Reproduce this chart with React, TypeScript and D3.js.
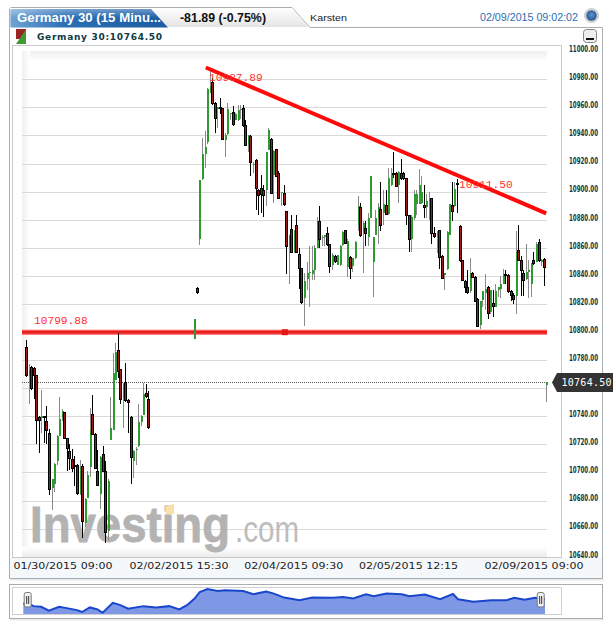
import React from "react";
import * as d3 from "d3";

const W = 613;
const H = 627;

// Candles as [open, high, low, close]
const sessionA = [
  [10789,10794,10768,10769],[10769,10777,10749,10773],[10775,10776,10759,10760],[10774,10775,10752,10769],[10769,10769,10720,10737],
  [10739,10740,10714,10737],[10739,10759,10728,10740],[10740,10740,10721,10739],[10736,10747,10720,10730],[10728,10731,10684,10688],
  [10689,10695,10673,10695],[10692,10707,10686,10706],[10708,10727,10705,10726],[10726,10754,10726,10738],[10739,10745,10737,10744],
  [10743,10743,10724,10724],[10724,10724,10701,10717],[10715,10720,10702,10710],[10709,10717,10700,10703],[10705,10712,10690,10704],
  [10705,10706,10684,10685],[10685,10709,10684,10704],[10704,10706,10653,10665],[10664,10682,10661,10681],[10682,10701,10682,10698],
  [10704,10746,10697,10730],[10741,10755,10727,10727],[10727,10728,10703,10703],[10701,10716,10690,10691],[10685,10712,10674,10711],
  [10713,10719,10701,10701],[10701,10708,10650,10657],[10658,10695,10652,10694],[10723,10754,10723,10732],[10730,10785,10730,10771],
  [10766,10792,10766,10786],[10787,10799,10767,10772],[10773,10773,10749,10752],[10753,10764,10732,10763],[10764,10778,10750,10751],
  [10751,10752,10728,10750],[10739,10740,10692,10711],[10708,10716,10696,10715],[10716,10718,10705,10717],[10719,10749,10718,10736],
  [10736,10741,10733,10740],[10741,10764,10741,10756],[10756,10763,10753,10754],[10752,10758,10731,10732],
];
const sessionB = [
  [10795,10809,10795,10809],[10831,10832,10827,10828],[10866,10908,10862,10908],[10909,10938,10908,10927],[10927,10943,10917,10932],
  [10935,10974,10934,10973],[10970,10988,10970,10975],[10978,10981,10962,10963],[10963,10964,10942,10952],[10959,10960,10945,10960],
  [10960,10967,10955,10959],[10959,10959,10937,10937],[10937,10942,10925,10940],[10941,10963,10940,10959],[10955,10956,10951,10956],
  [10956,10961,10947,10948],[10951,10956,10951,10955],[10951,10962,10950,10958],[10959,10962,10952,10959],[10959,10962,10946,10947],
  [10947,10951,10933,10933],[10933,10940,10928,10940],[10939,10940,10911,10921],[10919,10921,10913,10920],[10922,10923,10887,10902],
  [10901,10902,10883,10897],[10902,10912,10885,10898],[10901,10905,10882,10897],[10901,10928,10890,10928],[10930,10945,10930,10944],
  [10937,10938,10898,10899],[10912,10930,10892,10929],[10930,10930,10911,10911],[10913,10915,10895,10895],[10899,10900,10890,10900],
  [10899,10905,10890,10891],[10886,10886,10841,10861],[10861,10869,10834,10869],[10873,10883,10857,10857],[10857,10873,10856,10872],
  [10876,10883,10856,10857],[10855,10860,10831,10845],[10845,10845,10820,10821],[10824,10842,10804,10836],[10838,10850,10830,10842],
  [10842,10861,10818,10843],[10841,10861,10837,10844],[10844,10862,10837,10860],[10860,10882,10860,10879],[10879,10890,10860,10866],
  [10868,10869,10861,10868],[10868,10869,10861,10869],[10870,10875,10861,10862],[10862,10863,10842,10847],[10848,10856,10844,10855],
  [10854,10855,10849,10850],[10848,10855,10848,10855],[10848,10862,10847,10861],[10862,10872,10861,10871],[10872,10873,10863,10863],
  [10846,10866,10839,10865],[10853,10854,10838,10845],[10847,10853,10843,10853],[10853,10865,10852,10864],[10876,10897,10872,10890],
  [10889,10892,10868,10869],[10871,10879,10842,10878],[10874,10879,10861,10870],[10868,10885,10861,10881],[10881,10911,10881,10911],
  [10850,10868,10825,10868],[10869,10887,10869,10881],[10881,10892,10863,10889],[10887,10907,10872,10876],[10885,10901,10876,10891],
  [10890,10901,10883,10884],[10884,10917,10883,10910],
];
const sessionC = [
  [10905,10917,10904,10912],[10913,10928,10910,10912],[10913,10914,10904,10904],[10905,10915,10892,10914],[10913,10923,10908,10909],
  [10913,10914,10908,10909],[10909,10909,10876,10883],[10883,10883,10857,10866],[10866,10883,10857,10882],[10881,10901,10880,10898],
  [10891,10901,10883,10898],[10891,10916,10891,10905],[10892,10911,10891,10900],[10890,10905,10881,10889],[10889,10898,10881,10893],
  [10893,10900,10880,10895],[10895,10895,10863,10870],[10870,10875,10867,10868],[10868,10872,10856,10871],[10872,10872,10845,10853],
  [10854,10855,10838,10838],[10841,10842,10830,10842],[10845,10872,10844,10871],[10869,10891,10869,10891],[10890,10907,10879,10886],
  [10890,10907,10889,10902],[10906,10909,10885,10905],[10875,10876,10850,10851],[10851,10851,10836,10837],[10836,10837,10828,10832],
  [10832,10844,10827,10828],[10829,10853,10828,10842],[10842,10843,10839,10839],[10839,10840,10822,10822],[10823,10824,10804,10804],
  [10805,10822,10802,10822],[10823,10829,10818,10829],[10828,10841,10816,10831],[10832,10833,10809,10813],[10814,10830,10813,10830],
  [10820,10830,10811,10818],[10818,10834,10818,10829],[10830,10832,10825,10832],[10831,10840,10824,10834],[10834,10845,10834,10841],
  [10841,10844,10834,10840],[10840,10841,10828,10829],[10829,10830,10822,10826],[10826,10828,10820,10823],[10826,10872,10813,10857],
  [10858,10876,10851,10851],[10851,10854,10826,10844],[10842,10844,10826,10837],[10838,10863,10837,10843],[10844,10851,10824,10844],
  [10834,10849,10825,10849],[10851,10857,10848,10849],[10850,10864,10850,10863],[10864,10866,10850,10851],[10851,10852,10847,10851],
  [10852,10853,10833,10846],[10762,10764,10750,10764.5],
];
const barIndex = [...d3.range(0, 49), ...d3.range(66, 205)];
const candles = [...sessionA, ...sessionB, ...sessionC];

const priceTicks = [11000,10980,10960,10940,10920,10900,10880,10860,10840,10820,10800,10780,10760,10740,10720,10700,10680,10660,10640];
const hiddenTickLabel = 10760; // covered by the last-price flag in the reference
const timeBars = [14.5, 60, 105, 150, 199.2];
const timeLabels = ["01/30/2015 09:00","02/02/2015 15:30","02/04/2015 09:30","02/05/2015 12:15","02/09/2015 09:00"];

const navBars = [0,2,4,7,10,14,17,21,23,26,29,31,35,38,41,47,52,57,61,64,67,69,72,76,79,86,90,95,98,102,108,113,121,125,129,134,137,142,148,151,157,163,168,170,176,183,189,192,196,200,204];
const navValues = [10780,10780,10743,10734,10678,10734,10715,10687,10660,10725,10697,10650,10790,10757,10706,10743,10725,10743,10697,10757,10850,10943,10985,10957,10966,10957,10911,10948,10920,10864,10827,10864,10860,10873,10850,10911,10883,10920,10911,10883,10906,10841,10915,10841,10804,10827,10827,10860,10832,10860,10845];

const lastPrice = 10764.5;
const supportLevel = 10799.88;
const peakLabel = "10987.89";
const troughLabel = "10911.50";
const trendBars = [70.5, 204];
const trendValues = [10988.4, 10884.5];
const supportMarkerBar = 101.5;

const x = d3.scaleLinear().domain([0, 204]).range([26, 546.2]);
const y = d3.scaleLinear().domain([10980, 10640]).range([79.3, 556.7]);
const navX = d3.scaleLinear().domain([0, 204]).range([23.3, 545]);
const navY = d3.scaleLinear().domain([10632, 10985]).range([614, 589]);

const navLine = d3.line<number>().x((_, i) => navX(navBars[i])).y(d => navY(d)).curve(d3.curveLinear);
const navArea = d3.area<number>().x((_, i) => navX(navBars[i])).y0(navY(10632)).y1(d => navY(d));

const SANS = "'DejaVu Sans', Verdana, sans-serif";
const LMONO = "'Liberation Mono', monospace";
const MONO = "'DejaVu Sans Mono', monospace";
const ARIAL = "'Liberation Sans', Arial, sans-serif";

export default function App() {
  return (
    <svg width={W} height={H} viewBox={`0 0 ${W} ${H}`} style={{ position: "absolute", left: 0, top: 0, display: "block", background: "#fff" }}>
      <defs>
        <linearGradient id="tab" x1="0" y1="0" x2="1" y2="0">
          <stop offset="0" stopColor="#6fa3d3" />
          <stop offset="0.35" stopColor="#2a6fb5" />
          <stop offset="1" stopColor="#1c5da3" />
        </linearGradient>
        <linearGradient id="tabV" x1="0" y1="0" x2="0" y2="1">
          <stop offset="0" stopColor="#fff" stopOpacity="0.35" />
          <stop offset="1" stopColor="#fff" stopOpacity="0" />
        </linearGradient>
        <linearGradient id="strip" x1="0" y1="0" x2="0" y2="1">
          <stop offset="0" stopColor="#ffffff" />
          <stop offset="1" stopColor="#e4e4e4" />
        </linearGradient>
        <linearGradient id="topFade" x1="0" y1="0" x2="0" y2="1">
          <stop offset="0" stopColor="#efefef" />
          <stop offset="1" stopColor="#ffffff" />
        </linearGradient>
        <linearGradient id="botFade" x1="0" y1="0" x2="0" y2="1">
          <stop offset="0" stopColor="#ffffff" />
          <stop offset="1" stopColor="#ececec" />
        </linearGradient>
        <linearGradient id="leftFade" x1="0" y1="0" x2="1" y2="0">
          <stop offset="0" stopColor="#f0f0f0" />
          <stop offset="1" stopColor="#ffffff" />
        </linearGradient>
        <radialGradient id="globe" cx="0.5" cy="0.45" r="0.6">
          <stop offset="0" stopColor="#5f95cf" />
          <stop offset="1" stopColor="#1f4f8f" />
        </radialGradient>
      </defs>

      {/* header strip and tabs */}
      <rect x={10} y={579} width={594} height={1.5} fill="#e8e8e8" />
      <path d="M9.5,27.5 V10 Q9.5,7.5 12,7.5 H292 L310,27.5 H602.5 V578.5 H9.5 Z" fill="#fff" stroke="#a9adb0" strokeWidth={1} />
      <path d="M10,27 V8 H292 L309,27 Z" fill="url(#strip)" />
      <path d="M10.5,27.5 V9 H151 L168,27.5 Z" fill="url(#tab)" />
      <path d="M10.5,18 V9 H151 L159,18 Z" fill="url(#tabV)" />
      <text x={17} y={22} fill="#fff" fontFamily={ARIAL} fontWeight={700} fontSize={12.5} textLength={144} lengthAdjust="spacingAndGlyphs">Germany 30 (15 Minu...</text>
      <text x={180} y={22} fill="#111" fontFamily={ARIAL} fontWeight={700} fontSize={12} textLength={86} lengthAdjust="spacingAndGlyphs">-81.89 (-0.75%)</text>
      <text x={310} y={21} fill="#222" fontFamily={ARIAL} fontSize={9.5} textLength={37} lengthAdjust="spacingAndGlyphs">Karsten</text>
      <text x={480} y={21} fill="#2a6fb5" fontFamily={ARIAL} fontSize={10.5} textLength={98} lengthAdjust="spacingAndGlyphs">02/09/2015 09:02:02</text>
      <circle cx={591.5} cy={15.5} r={7} fill="#d5d5d5" stroke="#aaa" strokeWidth={0.5} />
      <circle cx={591.5} cy={15.5} r={5.2} fill="url(#globe)" />

      {/* legend row */}
      <path d="M16,29 H26 V39 L16,39 Z" fill="#9a2424" />
      <path d="M26,29.5 V44 H16 Z" fill="#3f9a34" />
      <text x={37} y={40} fill="#0c3a45" fontFamily={SANS} fontWeight={700} fontSize={9} textLength={125} lengthAdjust="spacing">Germany 30:10764.50</text>
      <rect x={583.5} y={29.5} width={13} height={13} rx={3} fill="#eee" stroke="#888" />
      <rect x={586} y={38} width={8} height={2} fill="#111" />

      {/* plot frame */}
      <rect x={12.5} y={45.5} width={549} height={512} fill="#fff" stroke="#c9c9c9" />
      <rect x={22} y={51} width={525} height={10} fill="url(#topFade)" />
      <rect x={22} y={51} width={8} height={506} fill="url(#leftFade)" />
      <rect x={22} y={547} width={525} height={10} fill="url(#botFade)" />

      {/* footer strip */}
      <rect x={10} y={558} width={592} height={20} fill="#f5f8fb" />

      {/* grid */}
      {priceTicks.slice(1, -1).map(t => (
        <line key={t} x1={22} x2={547} y1={Math.round(y(t)) + 0.5} y2={Math.round(y(t)) + 0.5} stroke="#d9d9d9" />
      ))}

      {/* watermark */}
      <text x={30} y={542} fill="#b3b3b3" stroke="#b3b3b3" strokeWidth={0.8} fontFamily={ARIAL} fontWeight={700} fontSize={50} textLength={200} lengthAdjust="spacingAndGlyphs">Investing</text>
      <text x={235} y={542} fill="#bdbdbd" fontFamily={ARIAL} fontSize={37} textLength={64} lengthAdjust="spacingAndGlyphs">.com</text>
      <path d="M165,507 L174,503.5 V514 H166 Z" fill="#f9dfa8" />

      {/* support line under candles */}
      <line x1={22} x2={547} y1={y(supportLevel)} y2={y(supportLevel)} stroke="#ff5555" strokeWidth={5} />
      <line x1={22} x2={547} y1={y(supportLevel)} y2={y(supportLevel)} stroke="#e82020" strokeWidth={2.4} />

      {/* last price dotted */}
      <line x1={22} x2={547} y1={382.5} y2={382.5} stroke="#555" strokeDasharray="1 1" />

      {/* candles */}
      <g shapeRendering="crispEdges">
        {candles.map(([o, h, l, c], i) => {
          const cx = Math.round(x(barIndex[i])) + 0.5;
          const down = c < o;
          const top = y(Math.max(o, c));
          const bot = y(Math.min(o, c));
          if (down) {
            return (
              <g key={i}>
                <line x1={cx} x2={cx} y1={y(h)} y2={y(l)} stroke="#000" />
                <rect x={cx - 1} y={top} width={2} height={Math.max(bot - top, 1.5)} fill="#a01a1a" stroke="#000" />
              </g>
            );
          }
          return (
            <g key={i}>
              <line x1={cx} x2={cx} y1={y(h)} y2={y(l)} stroke="#8a8a8a" />
              <rect x={cx - 0.5} y={top} width={2} height={Math.max(bot - top, 1.5)} fill="#2f9a2f" />
            </g>
          );
        })}
      </g>

      {/* drawings */}
      <line x1={x(trendBars[0])} y1={y(trendValues[0])} x2={x(trendBars[1])} y2={y(trendValues[1])} stroke="#ff0a0a" strokeWidth={4} />
      <rect x={x(supportMarkerBar) - 3} y={y(supportLevel) - 3} width={6} height={6} fill="#e01818" />
      <g fill="#ff3030" fontFamily={LMONO} fontSize={11.2}>
        <text x={34} y={y(supportLevel) - 8.5}>{supportLevel.toFixed(2)}</text>
        <text x={209} y={80.5}>{peakLabel}</text>
        <text x={459} y={187.5}>{troughLabel}</text>
      </g>

      {/* price axis */}
      {priceTicks.filter(t => t !== hiddenTickLabel).map(t => (
        <text key={t} x={569} y={y(t) + 0.8} fill="#0c3a45" fontFamily={SANS} fontSize={8} fontWeight={700} textLength={29} lengthAdjust="spacingAndGlyphs">{t.toFixed(2)}</text>
      ))}
      <path d="M552,382.5 L557,373 H613 V392 H557 Z" fill="#333" />
      <text x={561.5} y={386} fill="#fff" fontFamily={MONO} fontSize={10} textLength={50}>{lastPrice.toFixed(2)}</text>

      {/* time axis */}
      {timeLabels.map((t, i) => (
        <text key={t} x={x(timeBars[i])} y={569} textAnchor="middle" fill="#222" fontFamily={SANS} fontSize={9.5} textLength={99} lengthAdjust="spacingAndGlyphs">{t}</text>
      ))}

      {/* navigator */}
      <rect x={10} y={619} width={594} height={1.5} fill="#e8e8e8" />
      <rect x={9.5} y={584.5} width={593} height={34} fill="#fff" stroke="#a9adb0" />
      <rect x={12.5} y={587.5} width={549} height={27} fill="#fff" stroke="#d0d0d0" />
      <path d={navArea(navValues) ?? ""} fill="#7e98e6" />
      <path d={navLine(navValues) ?? ""} fill="none" stroke="#1a46cc" strokeWidth={2} />
      {[navX(0) + 4.4, navX(204) - 4.3].map((hx, i) => (
        <g key={i}>
          <rect x={hx - 3.5} y={592.5} width={7} height={14.5} rx={2} fill="#f2f2f2" stroke="#777" />
          <line x1={hx - 1} x2={hx - 1} y1={596} y2={604} stroke="#333" />
          <line x1={hx + 1} x2={hx + 1} y1={596} y2={604} stroke="#333" />
        </g>
      ))}
    </svg>
  );
}
